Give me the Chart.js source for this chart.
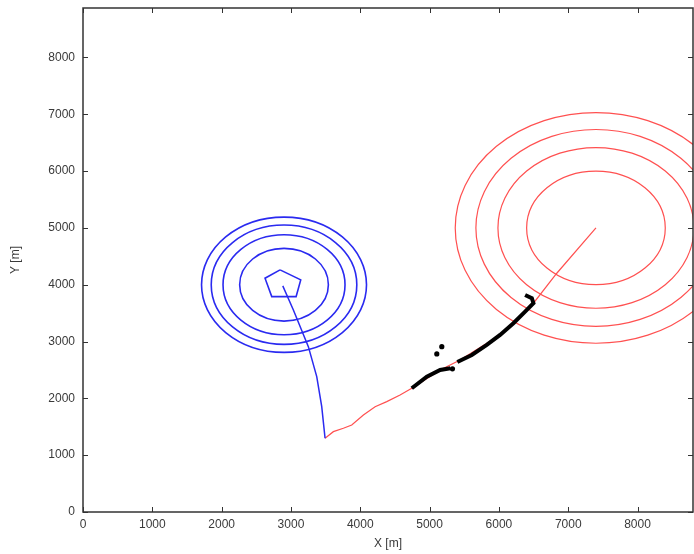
<!DOCTYPE html>
<html>
<head>
<meta charset="utf-8">
<script src="https://cdn.jsdelivr.net/npm/chart.js@4/dist/chart.umd.min.js"></script>
<style>
  html, body { margin: 0; padding: 0; background: #fff; }
</style>
</head>
<body>
<canvas id="chart" width="694" height="554"></canvas>
<script>
// axis ticks
const xTicks = [0, 1000, 2000, 3000, 4000, 5000, 6000, 7000, 8000];
const yTicks = [0, 1000, 2000, 3000, 4000, 5000, 6000, 7000, 8000];

// blue source: contour rings (radius in m) and the small pentagon at the top
const blueCenter = { x: 2900, y: 4000 };
const blueRadii = [640, 880, 1050, 1190];
const bluePentagon = [
  { x: 2843, y: 4261 }, { x: 3141, y: 4085 }, { x: 3074, y: 3790 },
  { x: 2723, y: 3790 }, { x: 2626, y: 4114 }, { x: 2843, y: 4261 }
];

// red source: contour rings
const redCenter = { x: 7400, y: 5000 };
const redRadii = [1000, 1414, 1732, 2030];

// trajectories
const bluePath = [
  { x: 2882, y: 3979 }, { x: 3035, y: 3556 }, { x: 3251, y: 2910 },
  { x: 3372, y: 2382 }, { x: 3444, y: 1854 }, { x: 3492, y: 1298 }
];
const redPath = [
  { x: 3492, y: 1298 }, { x: 3612, y: 1414 }, { x: 3756, y: 1474 },
  { x: 3877, y: 1532 }, { x: 4045, y: 1708 }, { x: 4214, y: 1854 },
  { x: 4382, y: 1942 }, { x: 4574, y: 2060 }, { x: 4743, y: 2178 },
  { x: 5152, y: 2500 }, { x: 5440, y: 2676 }, { x: 6017, y: 3116 },
  { x: 6498, y: 3674 }, { x: 6835, y: 4202 }, { x: 7400, y: 5000 }
];
// black detections along the red path (two stretches with a short gap)
const blackTrackA = [
  { x: 4743, y: 2178 }, { x: 4960, y: 2382 }, { x: 5152, y: 2500 },
  { x: 5300, y: 2530 }
];
const blackTrackB = [
  { x: 5400, y: 2640 }, { x: 5609, y: 2764 }, { x: 5825, y: 2940 },
  { x: 6017, y: 3116 }, { x: 6209, y: 3322 }, { x: 6378, y: 3526 },
  { x: 6498, y: 3674 }, { x: 6475, y: 3762 }, { x: 6378, y: 3820 }
];
const blackSpots = [
  { x: 5176, y: 2910 }, { x: 5104, y: 2782 }, { x: 5330, y: 2520 }
];

const axisColor = '#333';
const textColor = '#3a3a3a';

// contour rings, drawn from centre + radius through the chart scales
const ringsPlugin = {
  id: 'rings',
  beforeDatasetsDraw(chart) {
    const { ctx, chartArea, scales: { x, y } } = chart;
    ctx.save();
    ctx.beginPath();
    ctx.rect(chartArea.left, chartArea.top, chartArea.right - chartArea.left, chartArea.bottom - chartArea.top);
    ctx.clip();
    function rings(center, radii, color, width) {
      const cx = x.getPixelForValue(center.x);
      const cy = y.getPixelForValue(center.y);
      ctx.strokeStyle = color;
      ctx.lineWidth = width;
      radii.forEach(r => {
        const rx = Math.abs(x.getPixelForValue(center.x + r) - cx);
        const ry = Math.abs(y.getPixelForValue(center.y + r) - cy);
        ctx.beginPath();
        ctx.ellipse(cx, cy, rx, ry, 0, 0, Math.PI * 2);
        ctx.stroke();
      });
    }
    rings(blueCenter, blueRadii, '#2a2af0', 1.6);
    rings(redCenter, redRadii, '#ff5050', 1.2);
    ctx.restore();
  }
};

// MATLAB-style box with inward ticks on all four sides
const boxPlugin = {
  id: 'box',
  afterDatasetsDraw(chart) {
    const { ctx, chartArea: a, scales: { x, y } } = chart;
    ctx.save();
    ctx.strokeStyle = axisColor;
    ctx.lineWidth = 1;
    ctx.beginPath();
    xTicks.forEach(v => {
      const px = Math.round(x.getPixelForValue(v)) + 0.5;
      ctx.moveTo(px, a.bottom); ctx.lineTo(px, a.bottom - 5);
      ctx.moveTo(px, a.top); ctx.lineTo(px, a.top + 5);
    });
    yTicks.forEach(v => {
      const py = Math.round(y.getPixelForValue(v)) + 0.5;
      ctx.moveTo(a.left, py); ctx.lineTo(a.left + 5, py);
      ctx.moveTo(a.right, py); ctx.lineTo(a.right - 5, py);
    });
    ctx.stroke();
    ctx.lineWidth = 1.5;
    ctx.strokeRect(a.left, a.top, a.right - a.left, a.bottom - a.top);
    ctx.restore();
  }
};

const line = (label, data, color, width, order) => ({
  label, data, showLine: true, borderColor: color, borderWidth: width,
  pointRadius: 0, order
});

const tickFont = { family: 'Liberation Sans', size: 12 };

new Chart(document.getElementById('chart'), {
  type: 'scatter',
  data: {
    datasets: [
      line('black A', blackTrackA, '#000', 4, 0),
      line('black B', blackTrackB, '#000', 4, 0),
      {
        label: 'spots', data: blackSpots, showLine: false,
        backgroundColor: '#000', pointRadius: 2.6, pointBorderWidth: 0, order: 0
      },
      line('blue path', bluePath, '#2a2af0', 1.5, 1),
      line('pentagon', bluePentagon, '#2a2af0', 1.6, 1),
      line('red path', redPath, '#ff5050', 1.2, 2)
    ]
  },
  options: {
    responsive: false,
    animation: false,
    layout: { autoPadding: false, padding: { top: 8, right: 1, left: 0, bottom: 0 } },
    plugins: { legend: { display: false }, tooltip: { enabled: false } },
    scales: {
      x: {
        type: 'linear', min: 0, max: 8800,
        afterFit(scale) {
          scale.height = 42;
          scale.paddingLeft = 0; scale.paddingRight = 0;
        },
        afterBuildTicks(scale) { scale.ticks = xTicks.map(v => ({ value: v })); },
        grid: { display: false, drawTicks: false },
        border: { display: false },
        ticks: { color: textColor, padding: 5, font: tickFont, callback: v => String(v) },
        title: {
          display: true, text: 'X [m]', color: textColor,
          font: tickFont, padding: { top: 0, bottom: 3 }
        }
      },
      y: {
        type: 'linear', min: 0, max: 8870,
        afterFit(scale) {
          scale.width = 83;
          scale.paddingTop = 0; scale.paddingBottom = 0;
        },
        afterBuildTicks(scale) { scale.ticks = yTicks.map(v => ({ value: v })); },
        grid: { display: false, drawTicks: false },
        border: { display: false },
        ticks: { color: textColor, padding: 8, font: tickFont, callback: v => String(v) },
        title: {
          display: true, text: 'Y [m]', color: textColor,
          font: tickFont, padding: { top: 8, bottom: 0 }
        }
      }
    }
  },
  plugins: [ringsPlugin, boxPlugin]
});
</script>
</body>
</html>
